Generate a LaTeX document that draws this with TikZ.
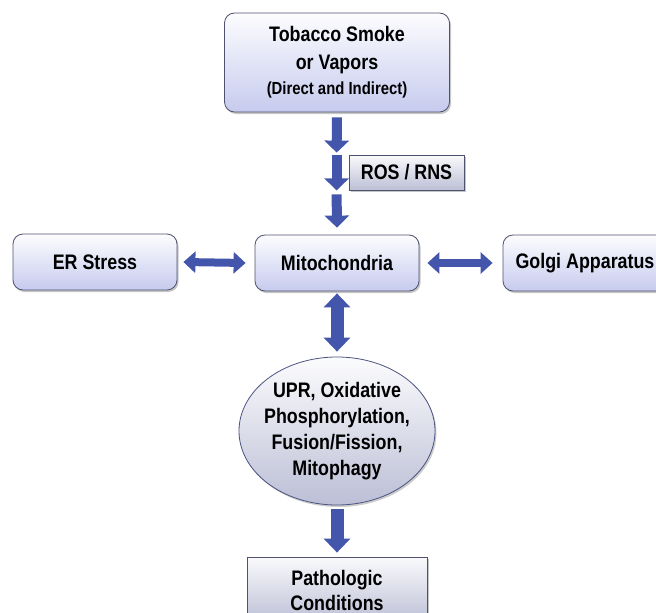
\documentclass[tikz,border=0pt]{standalone}
\usepackage{fontspec}
\setmainfont{Liberation Sans}[FakeStretch=0.85]
\usepackage{tikz}
\usetikzlibrary{shapes.geometric,arrows.meta,shadows}
\definecolor{bleu}{RGB}{68,86,172}
\definecolor{bord}{RGB}{78,82,110}
\definecolor{lavande}{RGB}{198,203,238}
\definecolor{grislav}{RGB}{188,191,214}
\newcommand{\petit}{\fontsize{17.5}{20}\selectfont}

\tikzset{
  boite/.style={draw=bord, line width=0.8pt, rounded corners=10pt,
    top color=white!96!lavande, bottom color=lavande,
    drop shadow={shadow xshift=1.5pt, shadow yshift=-2pt, opacity=.45},
    font=\fontsize{21}{28}\selectfont\bfseries, align=center},
  etiquette/.style={boite, rounded corners=0pt,
    top color=white!92!grislav, bottom color=grislav},
  bulle/.style={ellipse, draw=bord!70!bleu, line width=0.8pt,
    top color=white!95!grislav, bottom color=grislav, inner sep=-9pt,
    drop shadow={shadow xshift=1.5pt, shadow yshift=-2pt, opacity=.4},
    font=\fontsize{21}{26}\selectfont\bfseries, align=center},
  fleche/.style={draw=bleu, line width=10pt, -{Triangle[width=24pt,length=12pt]}},
  grosse/.style={draw=bleu, line width=13pt, -{Triangle[width=26pt,length=14pt]}},
  double/.style={draw=bleu, line width=8pt,
    {Triangle[width=21pt,length=12pt]}-{Triangle[width=21pt,length=12pt]}}
}

\begin{document}
\begin{tikzpicture}[x=1pt,y=-1pt]
  \useasboundingbox (0,0) rectangle (656,613);

  % Source.
  \node[boite, minimum width=225pt, minimum height=99pt] (fumee) at (337,62.5)
    {Tobacco Smoke\\or Vapors\\[-3pt]{\petit (Direct and Indirect)}};
  \node[etiquette, minimum width=115pt, minimum height=35pt] (ros) at (406.5,172.5) {ROS / RNS};

  % Centre.
  \node[boite, minimum width=164pt, minimum height=56pt] (mito) at (337,263) {Mitochondria};
  \node[boite, minimum width=164pt, minimum height=56pt] (er) at (95,262) {ER Stress};
  \node[boite, minimum width=164pt, minimum height=56pt] (golgi) at (585,263) {Golgi Apparatus};

  % Bas.
  \node[bulle, minimum width=196pt, minimum height=148pt] (upr) at (337,431)
    {UPR, Oxidative\\Phosphorylation,\\Fusion/Fission,\\Mitophagy};
  \node[etiquette, minimum width=180pt, minimum height=66pt, font=\fontsize{21}{25}\selectfont\bfseries]
    (patho) at (337,590) {Pathologic\\Conditions};

  % Fleches.
  \coordinate (r1) at ([xshift=-12pt]ros.north west);
  \coordinate (r2) at ([xshift=-12pt]ros.south west);
  \draw[fleche] ([yshift=-5pt]fumee.south) -- ([yshift=2pt]r1);
  \draw[fleche] (r1) -- (r2);
  \draw[fleche] ([yshift=-4pt]r2) -- ([yshift=7pt]mito.north);
  \draw[double] ([xshift=6pt]er.east) -- ([xshift=-9pt]mito.west);
  \draw[double] ([xshift=8pt]mito.east) -- ([xshift=-10pt]golgi.west);
  \draw[grosse, {Triangle[width=26pt,length=14pt]}-{Triangle[width=26pt,length=14pt]}]
    ([yshift=-2pt]mito.south) -- ([yshift=5pt]upr.north);
  \draw[grosse] ([yshift=-4pt]upr.south) -- ([yshift=4pt]patho.north);
\end{tikzpicture}
\end{document}
